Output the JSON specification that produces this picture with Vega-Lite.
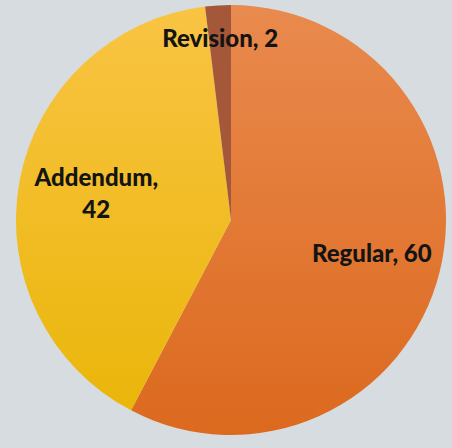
{
  "$schema": "https://vega.github.io/schema/vega-lite/v6.json",
  "width": 440,
  "height": 436,
  "autosize": "none",
  "padding": {"left": 11, "right": 1, "top": 2, "bottom": 10},
  "background": "#D6DCDF",
  "view": {"stroke": null},
  "data": {
    "values": [
      {"category": "Regular", "value": 60, "order": 1, "label": "Regular, 60"},
      {"category": "Addendum", "value": 42, "order": 2, "label": "Addendum,\n42"},
      {"category": "Revision", "value": 2, "order": 3, "label": "Revision, 2"}
    ]
  },
  "transform": [
    {"stack": "value", "groupby": [], "sort": [{"field": "order", "order": "ascending"}], "as": ["start", "end"]},
    {"calculate": "(datum.start + datum.end) / 2", "as": "mid"}
  ],
  "layer": [
    {
      "transform": [{"filter": "datum.category === 'Regular'"}],
      "mark": {"type": "arc", "radius": 215, "color": {"gradient": "linear", "x1": 0, "y1": 0, "x2": 0, "y2": 1, "stops": [{"offset": 0, "color": "#E98A4E"}, {"offset": 1, "color": "#DC691E"}]}},
      "encoding": {
        "theta": {"field": "start", "type": "quantitative", "scale": {"domain": [0, 104]}},
        "theta2": {"field": "end"}
      }
    },
    {
      "transform": [{"filter": "datum.category === 'Addendum'"}],
      "mark": {"type": "arc", "radius": 215, "color": {"gradient": "linear", "x1": 0, "y1": 0, "x2": 0, "y2": 1, "stops": [{"offset": 0, "color": "#F9C443"}, {"offset": 1, "color": "#EAB60A"}]}},
      "encoding": {
        "theta": {"field": "start", "type": "quantitative", "scale": {"domain": [0, 104]}},
        "theta2": {"field": "end"}
      }
    },
    {
      "transform": [{"filter": "datum.category === 'Revision'"}],
      "mark": {"type": "arc", "radius": 215, "color": "#A5573A"},
      "encoding": {
        "theta": {"field": "start", "type": "quantitative", "scale": {"domain": [0, 104]}},
        "theta2": {"field": "end"}
      }
    },
    {
      "transform": [{"filter": "datum.category === 'Regular'"}],
      "mark": {"type": "text", "radius": 145, "font": "Lato", "fontWeight": 900, "fontSize": 24, "color": "#141414", "align": "center", "baseline": "middle"},
      "encoding": {
        "theta": {"field": "mid", "type": "quantitative", "scale": {"domain": [0, 104]}},
        "text": {"field": "label"}
      }
    },
    {
      "transform": [{"filter": "datum.category === 'Addendum'"}],
      "mark": {"type": "text", "radius": 137, "dy": -16, "font": "Lato", "fontWeight": 900, "fontSize": 24, "color": "#141414", "lineBreak": "\n", "lineHeight": 32, "align": "center", "baseline": "middle"},
      "encoding": {
        "theta": {"field": "mid", "type": "quantitative", "scale": {"domain": [0, 104]}},
        "text": {"field": "label"}
      }
    },
    {
      "transform": [{"filter": "datum.category === 'Revision'"}],
      "mark": {"type": "text", "radius": 180, "font": "Lato", "fontWeight": 900, "fontSize": 24, "color": "#141414", "align": "center", "baseline": "middle"},
      "encoding": {
        "theta": {"field": "mid", "type": "quantitative", "scale": {"domain": [0, 104]}},
        "text": {"field": "label"}
      }
    }
  ]
}
